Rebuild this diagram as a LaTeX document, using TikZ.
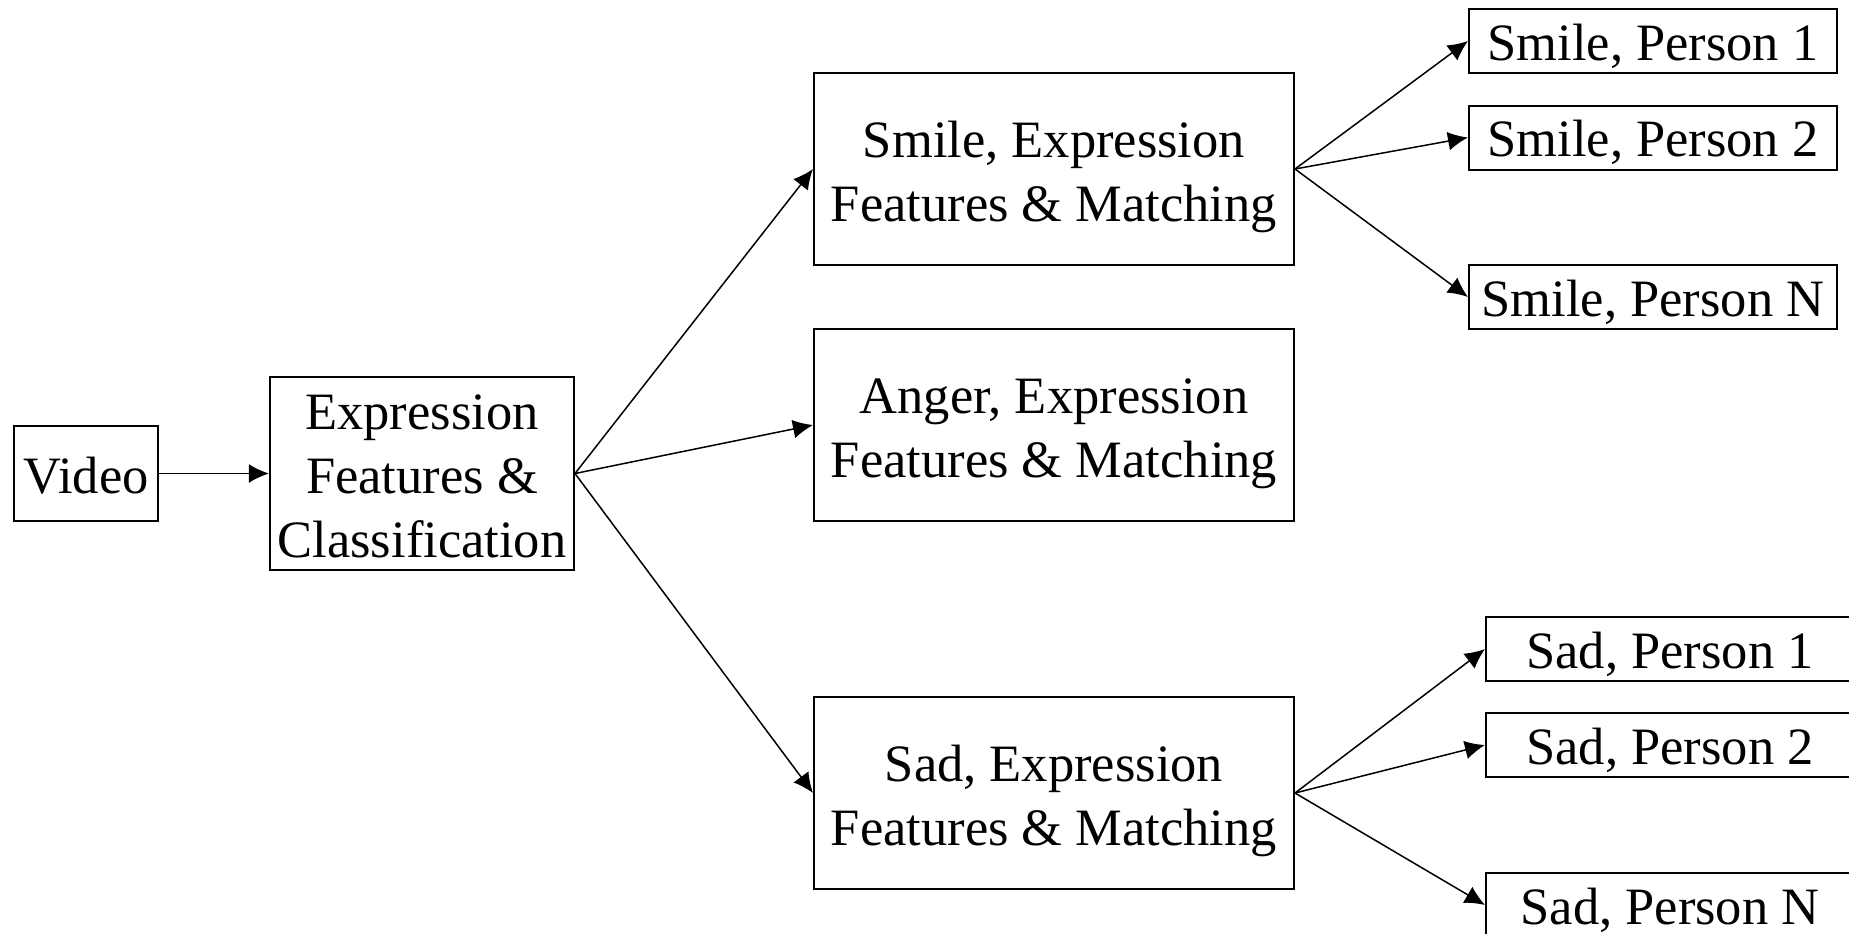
\documentclass[tikz,border=0pt]{standalone}
\usepackage{fontspec}
\setmainfont{Liberation Serif}
\usetikzlibrary{arrows.meta}

\tikzset{
  blk/.style={draw, line width=0.8pt, inner sep=0pt, align=center,
    font=\fontsize{21}{25.5}\selectfont, text depth=0pt},
  arr/.style={-{Latex[length=8pt,width=7.5pt]}, line width=0.6pt},
}

\begin{document}
\begin{tikzpicture}[x=0.4pt,y=-0.4pt]
\clip (0,0) rectangle (1849,934);
\useasboundingbox (0,0) rectangle (1849,934);
\node[blk, minimum width=57.6pt, minimum height=38pt, text height=15.7pt] (video) at (86,473.5) {Video};
\node[blk, minimum width=121.6pt, minimum height=77.2pt, text height=66.9pt] (expr) at (422,473.5) {Expression\\Features \&\\Classification};
% middle column
\node[blk, minimum width=192pt, minimum height=76.8pt, text height=41.9pt] (smile) at (1054,169) {Smile, Expression\\Features \& Matching};
\node[blk, minimum width=192pt, minimum height=76.8pt, text height=41.9pt] (anger) at (1054,425) {Anger, Expression\\Features \& Matching};
\node[blk, minimum width=192pt, minimum height=76.8pt, text height=41.9pt] (sad) at (1054,793) {Sad, Expression\\Features \& Matching};
% persons
\node[blk, minimum width=147.2pt, minimum height=25.6pt, text height=15.2pt] (smileA) at (1653,41) {Smile, Person 1};
\node[blk, minimum width=147.2pt, minimum height=25.6pt, text height=15.2pt] (smileB) at (1653,137.5) {Smile, Person 2};
\node[blk, minimum width=147.2pt, minimum height=25.6pt, text height=15.2pt] (smileN) at (1653,297) {Smile, Person N};
\node[blk, minimum width=147.2pt, minimum height=25.6pt, text height=15.2pt] (sadA) at (1670,649) {Sad, Person 1};
\node[blk, minimum width=147.2pt, minimum height=25.6pt, text height=15.2pt] (sadB) at (1670,745) {Sad, Person 2};
\node[blk, minimum width=147.2pt, minimum height=25.6pt, text height=15.2pt] (sadN) at (1670,905) {Sad, Person N};

\draw[arr] (video.east)--(expr.west);
\draw[arr] (expr.east)--(smile.west);
\draw[arr] (expr.east)--(anger.west);
\draw[arr] (expr.east)--(sad.west);
\draw[arr] (smile.east)--(smileA.west);
\draw[arr] (smile.east)--(smileB.west);
\draw[arr] (smile.east)--(smileN.west);
\draw[arr] (sad.east)--(sadA.west);
\draw[arr] (sad.east)--(sadB.west);
\draw[arr] (sad.east)--(sadN.west);
\end{tikzpicture}
\end{document}
